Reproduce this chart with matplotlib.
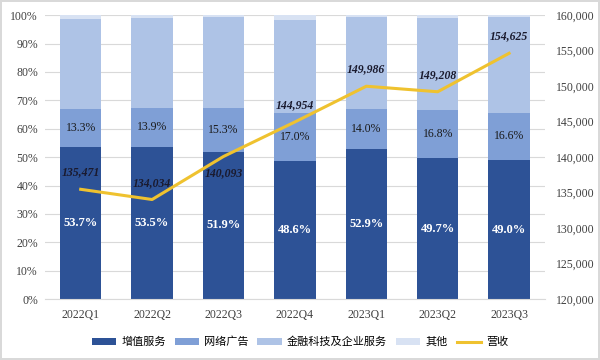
import matplotlib
matplotlib.use("Agg")
import matplotlib.pyplot as plt
import numpy as np
from matplotlib.ticker import FuncFormatter, MultipleLocator

categories = ["2022Q1", "2022Q2", "2022Q3", "2022Q4", "2023Q1", "2023Q2", "2023Q3"]
vas = [53.7, 53.5, 51.9, 48.6, 52.9, 49.7, 49.0]
ads = [13.3, 13.9, 15.3, 17.0, 14.0, 16.8, 16.6]
fintech = [31.5, 31.5, 32.0, 32.6, 32.5, 32.6, 33.7]
others = [1.5, 1.1, 0.8, 1.8, 0.6, 0.9, 0.7]
revenue = [135471, 134034, 140093, 144954, 149986, 149208, 154625]
series_names = ["增值服务", "网络广告", "金融科技及企业服务", "其他", "营收"]

colors = ["#2D5296", "#7F9FD6", "#AEC3E6", "#D8E2F3"]
line_color = "#EFC22F"
serif = ["Liberation Serif", "DejaVu Serif"]
cjk = ["Noto Sans CJK SC", "DejaVu Sans"]

fig = plt.figure(figsize=(6, 3.6), dpi=100)
ax = fig.add_axes([0.075, 0.169, 0.833, 0.789])
x = np.arange(len(categories))
w = 0.58
bottom = np.zeros(len(x))
handles = []
for vals, c, name in zip([vas, ads, fintech, others], colors, series_names[:4]):
    b = ax.bar(x, vals, w, bottom=bottom, color=c, zorder=2, label=name)
    handles.append(b)
    bottom = bottom + np.array(vals)

for i in range(len(x)):
    ax.text(x[i], vas[i] / 2, f"{vas[i]:.1f}%", ha="center", va="center",
            color="white", fontweight="bold", fontsize=9, family=serif, zorder=5)
    ax.text(x[i], vas[i] + ads[i] / 2, f"{ads[i]:.1f}%", ha="center", va="center",
            color="#1a1a1a", fontsize=8.5, family=serif, zorder=5)

ax.set_ylim(0, 100)
ax.set_xlim(-0.5, len(x) - 0.5)
ax.yaxis.set_major_locator(MultipleLocator(10))
ax.yaxis.set_major_formatter(FuncFormatter(lambda v, p: f"{v:.0f}%"))
ax.grid(axis="y", color="#D9D9D9", linewidth=0.8, zorder=0)
ax.set_axisbelow(True)
for s in ["top", "left", "right"]:
    ax.spines[s].set_visible(False)
ax.spines["bottom"].set_color("#D9D9D9")
ax.tick_params(axis="y", length=0, labelsize=8.5, colors="#404040", pad=5)
ax.tick_params(axis="x", length=0, labelsize=8.5, colors="#404040", pad=7)
ax.set_xticks(x)
ax.set_xticklabels(categories)
for lbl in ax.get_xticklabels() + ax.get_yticklabels():
    lbl.set_family(serif)

ax2 = ax.twinx()
ax2.set_ylim(120000, 160000)
ax2.yaxis.set_major_locator(MultipleLocator(5000))
ax2.yaxis.set_major_formatter(FuncFormatter(lambda v, p: f"{v:,.0f}"))
for s in ["top", "left", "right", "bottom"]:
    ax2.spines[s].set_visible(False)
ax2.tick_params(axis="y", length=0, labelsize=8.5, colors="#404040", pad=8)
for lbl in ax2.get_yticklabels():
    lbl.set_family(serif)
ln, = ax2.plot(x, revenue, color=line_color, linewidth=2.2, zorder=4, label="营收")
handles.append(ln)

offsets = [12, 12, -12, 12, 12, 12, 12]
for i in range(len(x)):
    ax2.annotate(f"{revenue[i]:,}", (x[i], revenue[i]), xytext=(0, offsets[i]),
                 textcoords="offset points", ha="center", va="center",
                 fontsize=8.5, fontweight="bold", fontstyle="italic",
                 family=serif, color="#1a1a2e", zorder=6)

leg = fig.legend(handles, series_names, loc="center", bbox_to_anchor=(0.5, 0.05),
                 ncol=5, frameon=False, prop={"family": cjk, "size": 8},
                 handlelength=2.2, handleheight=0.55, handletextpad=0.45, columnspacing=0.8)

fig.patch.set_edgecolor("#D9D9D9")
fig.patch.set_linewidth(1.5)
fig.savefig("out.png", dpi=100, edgecolor=fig.get_edgecolor())
